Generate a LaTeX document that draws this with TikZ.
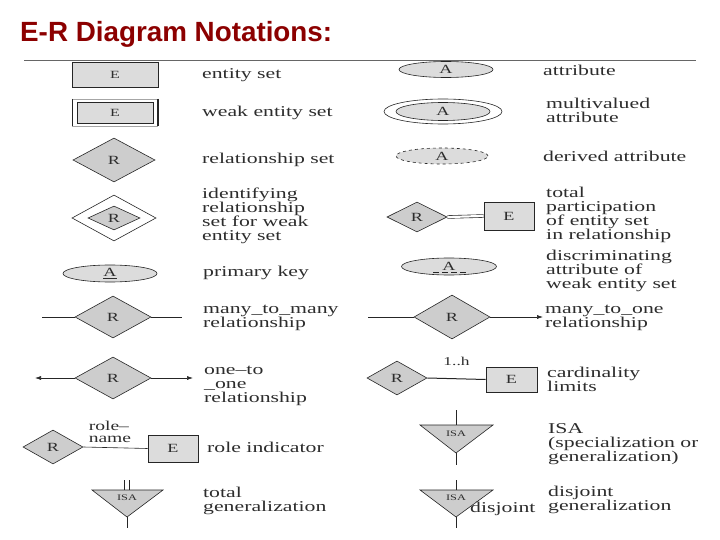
\documentclass[tikz,border=0pt]{standalone}
\usepackage{fontspec}
\setmainfont{Liberation Serif}[FakeStretch=1.45]
\newfontfamily\titlefont{Liberation Sans}
\usetikzlibrary{shapes.geometric,arrows.meta}
\definecolor{titlered}{RGB}{140,0,0}
\definecolor{dfill}{RGB}{205,205,205}
\definecolor{efill}{RGB}{220,220,220}
\definecolor{txt}{RGB}{45,45,45}
\begin{document}
\begin{tikzpicture}[x=1pt,y=-1pt,
  every node/.style={text=txt},
  ln/.style={draw=black!85, line width=0.6pt},
  lbl/.style={anchor=west, align=left, font=\fontsize{15}{14}\selectfont, inner sep=0pt},
  sym/.style={font=\fontsize{12.5}{13}\selectfont, inner sep=0pt},
  ent/.style={ln, sym, rectangle, fill=efill, minimum width=#1},
  rel/.style={ln, sym, diamond, fill=dfill},
  att/.style={ln, sym, ellipse, fill=efill},
  thick edge/.style={draw=black!85, line width=1.6pt},
  tip/.style={-{Latex[length=6pt,width=4pt]}},
  isatri/.style={ln, fill=dfill}
]
\useasboundingbox (0,0) rectangle (720,540);
\fill[white] (0,0) rectangle (720,540);

% title
\node[anchor=west, inner sep=0pt, text=titlered,
      font=\titlefont\bfseries\fontsize{27.8}{30}\selectfont] (title) at (20,34) {E-R Diagram Notations:};
\coordinate (rl) at (24,60);
\coordinate (rr) at (696,60);
\draw[black!60, line width=0.8pt] (rl) -- (rr);

\begin{scope}
\clip (22,58) rectangle (697,532);

% ---------------- left column ----------------
% entity set
\node[ent=86pt, minimum height=25pt, font=\fontsize{11}{12}\selectfont] (e1) at (115,74.5) {E};
\draw[thick edge] (e1.north east) -- (e1.south east);
\node[lbl] (t1) at (202,75) {entity set};

% weak entity set
\node[rectangle, minimum width=86pt, minimum height=27pt, inner sep=0pt] (w2) at (115,112.5) {};
\draw[black!35, line width=0.5pt] (w2.north west) -- (w2.north east) (w2.south west) -- (w2.south east);
\draw[ln] (w2.north west) -- (w2.south west);
\draw[thick edge] (w2.north east) -- (w2.south east);
\node[ent=76pt, minimum height=21pt, font=\fontsize{11}{12}\selectfont] (e2) at (115,112.5) {E};
\node[lbl] (t2) at (202,113) {weak entity set};

% relationship set
\node[rel, minimum width=82pt, minimum height=44pt] (r3) at (114,160) {R};
\node[lbl] (t3) at (202,160) {relationship set};

% identifying relationship set
\node[ln, diamond, minimum width=84pt, minimum height=46pt, inner sep=0pt] (r4o) at (114,218) {};
\node[rel, minimum width=52pt, minimum height=24pt] (r4) at (114,218) {R};
\node[lbl] (t4) at (202,216) {identifying\\relationship\\set for weak\\entity set};

% primary key
\node[att, minimum width=94pt, minimum height=17pt] (a5) at (110,273.5) {\underline{A}};
\node[lbl] (t5) at (203,273) {primary key};

% many-to-many
\node[rel, minimum width=76pt, minimum height=42pt] (r6) at (113,317) {R};
\coordinate (m6l) at (42,317);
\coordinate (m6r) at (182,317);
\draw[ln] (m6l) -- (r6.west);
\draw[ln] (r6.east) -- (m6r);
\node[lbl] (t6) at (203,318) {many\_to\_many\\relationship};

% one-to-one
\node[rel, minimum width=76pt, minimum height=42pt] (r7) at (113,378) {R};
\coordinate (o7l) at (35,378);
\coordinate (o7r) at (193,378);
\draw[ln, tip] (r7.west) -- (o7l);
\draw[ln, tip] (r7.east) -- (o7r);
\node[lbl] (t7) at (204,386) {one–to\\\_one\\relationship};

% role indicator
\node[rel, minimum width=60pt, minimum height=34pt] (r8) at (53,447) {R};
\node[ent=50pt, minimum height=27pt] (e8) at (173,448.5) {E};
\draw[ln] (r8.east) -- node[pos=0.08, anchor=south west, align=left, inner sep=0pt, yshift=4pt,
   font=\fontsize{13.5}{12.5}\selectfont] (rn8) {role–\\name} (e8.west);
\node[lbl] (t8) at (207,447) {role indicator};

% total generalization
\coordinate (g9a) at (92,490);
\coordinate (g9b) at (163,490);
\coordinate (g9c) at (127,517);
\coordinate (g9d) at (127,528);
\draw[isatri] (g9a) -- (g9b) -- (g9c) -- cycle;
\node[sym, font=\fontsize{8.5}{10}\selectfont] (isa9) at (127,498) {ISA};
\coordinate (g9t1) at (124.5,480);
\coordinate (g9t2) at (129.5,480);
\coordinate (g9u1) at (124.5,490);
\coordinate (g9u2) at (129.5,490);
\draw[ln] (g9t1) -- (g9u1);
\draw[ln] (g9t2) -- (g9u2);
\draw[ln] (g9c) -- (g9d);
\node[lbl] (t9) at (203,501) {total\\generalization};

% ---------------- right column ----------------
% attribute
\node[att, minimum width=94pt, minimum height=16pt] (a10) at (446,69.5) {A};
\node[lbl] (t10) at (543,70) {attribute};

% multivalued attribute
\node[ln, ellipse, minimum width=118pt, minimum height=25pt, inner sep=0pt] (a11o) at (443,111.5) {};
\node[att, minimum width=94pt, minimum height=18pt] (a11) at (443,111.5) {A};
\node[lbl] (t11) at (546,110) {multivalued\\attribute};

% derived attribute
\node[att, dashed, minimum width=92pt, minimum height=16pt] (a12) at (442,156) {A};
\node[lbl] (t12) at (543,156) {derived attribute};

% total participation
\node[rel, minimum width=60pt, minimum height=30pt] (r13) at (417,217) {R};
\node[ent=50pt, minimum height=28pt] (e13) at (509,216) {E};
\draw[draw=black!85, line width=0.6pt, double, double distance=2.2pt] (r13.east) -- (e13.west);
\node[lbl] (t13) at (546,215) {total\\participation\\of entity set\\in relationship};

% discriminating attribute
\node[att, minimum width=95pt, minimum height=17pt] (a14) at (449,266.5) {A};
\coordinate (d14l) at (433,272);
\coordinate (d14r) at (467,272);
\draw[black!85, line width=0.6pt, dash pattern=on 6pt off 3pt] (d14l) -- (d14r);
\node[lbl] (t14) at (546,271) {discriminating\\attribute of\\weak entity set};

% many-to-one
\node[rel, minimum width=76pt, minimum height=44pt] (r15) at (452,317) {R};
\coordinate (m15l) at (368,317);
\coordinate (m15r) at (543,317);
\draw[ln] (m15l) -- (r15.west);
\draw[ln, tip] (r15.east) -- (m15r);
\node[lbl] (t15) at (545,318) {many\_to\_one\\relationship};

% cardinality limits
\node[rel, minimum width=60pt, minimum height=34pt] (r16) at (397,378) {R};
\node[ent=51pt, minimum height=25pt] (e16) at (511.5,379.5) {E};
\draw[thick edge] (e16.north east) -- (e16.south east);
\draw[draw=black!85, line width=1pt] (r16.east) -- node[above=13pt, inner sep=0pt,
   font=\fontsize{12}{12}\selectfont] (c16) {1..h} (e16.west);
\node[lbl] (t16) at (547,379) {cardinality\\limits};

% ISA
\coordinate (i17t) at (456,410);
\coordinate (i17a) at (420,425);
\coordinate (i17b) at (493,425);
\coordinate (i17m) at (456,425);
\coordinate (i17c) at (456,453);
\coordinate (i17d) at (456,465);
\draw[isatri] (i17a) -- (i17b) -- (i17c) -- cycle;
\node[sym, font=\fontsize{8.5}{10}\selectfont] (isa17) at (456,434) {ISA};
\draw[ln] (i17t) -- (i17m);
\draw[ln] (i17c) -- (i17d);
\node[lbl] (t17) at (548,444) {ISA\\(specialization or\\generalization)};

% disjoint generalization
\coordinate (i18t) at (456,480);
\coordinate (i18a) at (420,490);
\coordinate (i18b) at (493,490);
\coordinate (i18m) at (456,490);
\coordinate (i18c) at (456,517);
\coordinate (i18d) at (456,528);
\draw[isatri] (i18a) -- (i18b) -- (i18c) -- cycle;
\node[sym, font=\fontsize{8.5}{10}\selectfont] (isa18) at (456,498) {ISA};
\draw[ln] (i18t) -- (i18m);
\draw[ln] (i18c) -- (i18d);
\node[lbl] (dj18) at (470,509) {disjoint};
\node[lbl] (t18) at (548,500) {disjoint\\generalization};
\end{scope}
\end{tikzpicture}
\end{document}
